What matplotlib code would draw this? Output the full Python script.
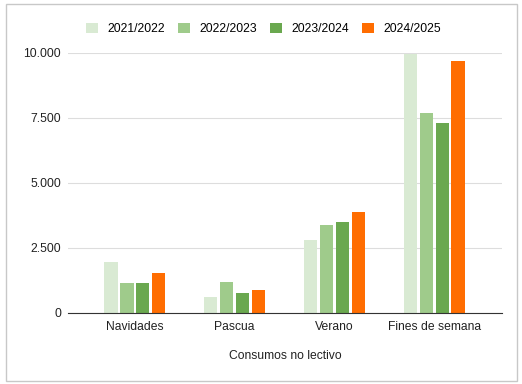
import matplotlib.pyplot as plt
import matplotlib.ticker as mticker
import numpy as np
from matplotlib.patches import Rectangle

plt.rcParams["font.family"] = ["Liberation Sans", "DejaVu Sans"]

categories = ["Navidades", "Pascua", "Verano", "Fines de semana"]
series = ["2021/2022", "2022/2023", "2023/2024", "2024/2025"]
values = {
    "2021/2022": [1950, 600, 2810, 9950],
    "2022/2023": [1170, 1200, 3400, 7680],
    "2023/2024": [1170, 780, 3510, 7300],
    "2024/2025": [1520, 900, 3900, 9680],
}
colors = ["#d9ead3", "#9fcb8b", "#6aa84f", "#ff6d01"]

fig = plt.figure(figsize=(5.22, 3.84), dpi=100)
fig.patches.append(Rectangle((0.012, 0.008), 0.978, 0.982, transform=fig.transFigure,
                             fill=False, edgecolor="#c8c8c8", linewidth=1))
ax = fig.add_axes([0.130, 0.185, 0.832, 0.677])

x = np.arange(len(categories))
width = 0.135
step = 0.16
for i, (name, color) in enumerate(zip(series, colors)):
    ax.bar(x + (i - 1.5) * step, values[name], width, color=color, label=name, zorder=3)

ax.set_xlim(-0.67, 3.68)
ax.set_ylim(0, 10000)
ax.set_yticks([0, 2500, 5000, 7500, 10000])
ax.yaxis.set_major_formatter(mticker.FuncFormatter(lambda v, p: f"{int(v):,}".replace(",", ".")))
ax.set_xticks(x)
ax.set_xticklabels(categories)
ax.tick_params(axis="both", length=0, labelsize=8.7, colors="#222222")
ax.tick_params(axis="x", pad=6)
ax.tick_params(axis="y", pad=5)
ax.grid(axis="y", color="#dddddd", linewidth=0.8, zorder=0)
for s in ["top", "right", "left"]:
    ax.spines[s].set_visible(False)
ax.spines["bottom"].set_color("#333333")
ax.spines["bottom"].set_zorder(4)
ax.set_xlabel("Consumos no lectivo", fontsize=8.7, color="#222222", labelpad=12)

ax.legend(loc="lower center", bbox_to_anchor=(0.45, 1.05), ncol=4, frameon=False,
          fontsize=8.7, handlelength=1.0, handleheight=1.0, columnspacing=1.05,
          handletextpad=0.8, borderaxespad=0)

fig.savefig("out.png", dpi=100)
